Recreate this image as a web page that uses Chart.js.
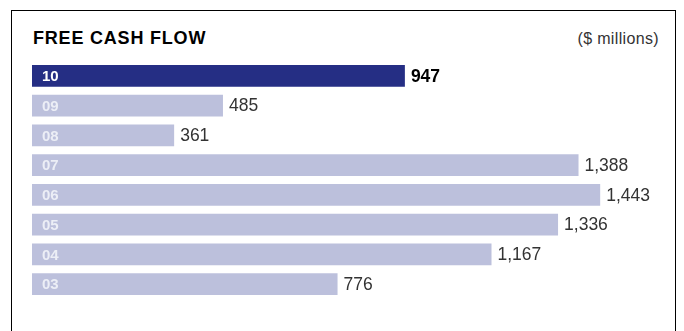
<!DOCTYPE html>
<html>
<head>
<meta charset="utf-8">
<script src="https://cdn.jsdelivr.net/npm/chart.js@4/dist/chart.umd.min.js"></script>
<style>
  html, body { margin: 0; padding: 0; background: #fff; }
  #wrap { position: relative; width: 684px; height: 331px; overflow: hidden; font-family: "Liberation Sans", Arial, sans-serif; }
  #frame { position: absolute; left: 11px; top: 10px; width: 665px; height: 340px; border: 1.5px solid #000; border-bottom: none; box-sizing: border-box; }
  #title { position: absolute; left: 33px; top: 28px; font-size: 18px; font-weight: bold; color: #000; letter-spacing: 0.8px; }
  #unit { position: absolute; right: 25px; top: 30px; font-size: 16px; color: #333; letter-spacing: 0.35px; }
  canvas { position: absolute; left: 0; top: 0; }
</style>
</head>
<body>
<div id="wrap">
  <div id="frame"></div>
  <div id="title">FREE CASH FLOW</div>
  <div id="unit">($ millions)</div>
  <canvas id="c" width="684" height="331"></canvas>
</div>
<script>
const years = ["10", "09", "08", "07", "06", "05", "04", "03"];
const freeCashFlow = [947, 485, 361, 1388, 1443, 1336, 1167, 776];
const valueLabels = ["947", "485", "361", "1,388", "1,443", "1,336", "1,167", "776"];
const highlightIndex = 0;

const darkBar = "#252e84";
const lightBar = "#bcc0dc";

const labelPlugin = {
  id: "barLabels",
  afterDatasetsDraw(chart) {
    const ctx = chart.ctx;
    const meta = chart.getDatasetMeta(0);
    ctx.save();
    ctx.textBaseline = "middle";
    meta.data.forEach((bar, i) => {
      const hi = i === highlightIndex;
      ctx.font = "bold 15px 'Liberation Sans', Arial, sans-serif";
      ctx.fillStyle = hi ? "#ffffff" : "#eceef6";
      ctx.textAlign = "left";
      ctx.fillText(years[i], chart.chartArea.left + 10, bar.y + 1);
      ctx.font = (hi ? "bold " : "") + "17.5px 'Liberation Sans', Arial, sans-serif";
      ctx.fillStyle = hi ? "#000000" : "#333333";
      ctx.fillText(valueLabels[i], bar.x + 6, bar.y + 1);
    });
    ctx.restore();
  }
};

new Chart(document.getElementById("c"), {
  type: "bar",
  data: {
    labels: years,
    datasets: [{
      data: freeCashFlow,
      backgroundColor: freeCashFlow.map((v, i) => i === highlightIndex ? darkBar : lightBar),
      borderWidth: 0,
      barPercentage: 0.73,
      categoryPercentage: 1.0
    }]
  },
  options: {
    indexAxis: "y",
    responsive: false,
    animation: false,
    devicePixelRatio: 1,
    layout: { padding: { left: 32, right: 22, top: 61, bottom: 32 } },
    scales: {
      x: { display: false, min: 0, max: 1600 },
      y: { display: false }
    },
    plugins: {
      legend: { display: false },
      tooltip: { enabled: false }
    }
  },
  plugins: [labelPlugin]
});
</script>
</body>
</html>
